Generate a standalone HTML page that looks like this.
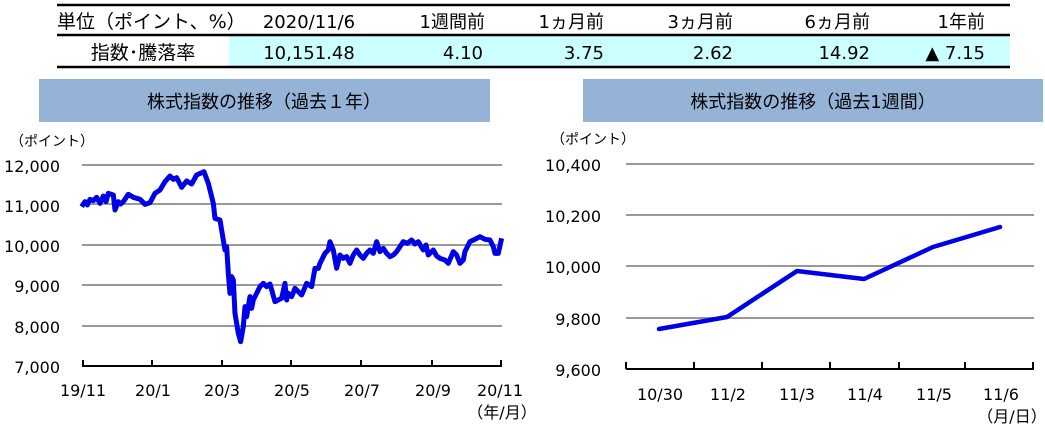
<!DOCTYPE html>
<html><head><meta charset="utf-8"><style>
body{margin:0;background:#fff;width:1045px;height:427px;overflow:hidden;font-family:"DejaVu Sans","Noto Sans CJK JP",sans-serif;}
svg text{font-family:"DejaVu Sans","Noto Sans CJK JP",sans-serif;fill:#000;}
</style></head><body>
<svg width="1045" height="427" viewBox="0 0 1045 427" xmlns="http://www.w3.org/2000/svg">
<!-- table -->
<rect x="229" y="36" width="781" height="30" fill="#ccffff"/>
<line x1="57" y1="5" x2="1010" y2="5" stroke="#000" stroke-width="2.5"/>
<line x1="57" y1="35" x2="1010" y2="35" stroke="#000" stroke-width="2.5"/>
<line x1="57" y1="67" x2="1010" y2="67" stroke="#000" stroke-width="2.5"/>
<g font-size="18">
<text x="57" y="28" font-size="19">単位（ポイント、%）</text>
<text x="309" y="28" text-anchor="middle">2020/11/6</text>
<text x="485" y="28" text-anchor="end">1週間前</text>
<text x="604" y="28" text-anchor="end">1ヵ月前</text>
<text x="733" y="28" text-anchor="end">3ヵ月前</text>
<text x="870" y="28" text-anchor="end">6ヵ月前</text>
<text x="985" y="28" text-anchor="end">1年前</text>
<text x="143" y="59" text-anchor="middle" font-size="19">指数･騰落率</text>
<text x="309" y="59" text-anchor="middle">10,151.48</text>
<text x="483" y="59" text-anchor="end">4.10</text>
<text x="604" y="59" text-anchor="end">3.75</text>
<text x="733" y="59" text-anchor="end">2.62</text>
<text x="870" y="59" text-anchor="end">14.92</text>
<text x="985" y="59" text-anchor="end">▲ 7.15</text>
</g>
<!-- titles -->
<rect x="39" y="79" width="451" height="43" fill="#95b3d7"/>
<text x="264" y="108" font-size="18" text-anchor="middle">株式指数の推移（過去１年）</text>
<rect x="583" y="79" width="460" height="43" fill="#95b3d7"/>
<text x="813" y="108" font-size="18" text-anchor="middle">株式指数の推移（過去1週間）</text>

<!-- left chart -->
<g font-size="16">
<text x="10" y="146" font-size="14">（ポイント）</text>
<g stroke="#999" stroke-width="2">
<line x1="82" y1="165" x2="502" y2="165"/><line x1="82" y1="204" x2="502" y2="204"/>
<line x1="82" y1="245" x2="502" y2="245"/><line x1="82" y1="285" x2="502" y2="285"/>
<line x1="82" y1="326" x2="502" y2="326"/></g>
<g stroke="#000" stroke-width="2"><line x1="82" y1="366" x2="502" y2="366"/>
<line x1="83" y1="360" x2="83" y2="366"/><line x1="152" y1="360" x2="152" y2="366"/><line x1="222" y1="360" x2="222" y2="366"/><line x1="291" y1="360" x2="291" y2="366"/><line x1="361" y1="360" x2="361" y2="366"/><line x1="432" y1="360" x2="432" y2="366"/><line x1="501" y1="360" x2="501" y2="366"/></g>
<text x="60" y="172" text-anchor="end">12,000</text><text x="60" y="212" text-anchor="end">11,000</text>
<text x="60" y="252" text-anchor="end">10,000</text><text x="60" y="292" text-anchor="end">9,000</text>
<text x="60" y="333" text-anchor="end">8,000</text><text x="60" y="373" text-anchor="end">7,000</text>
<text x="83" y="396" text-anchor="middle">19/11</text><text x="153" y="396" text-anchor="middle">20/1</text>
<text x="222" y="396" text-anchor="middle">20/3</text><text x="292" y="396" text-anchor="middle">20/5</text>
<text x="362" y="396" text-anchor="middle">20/7</text><text x="433" y="396" text-anchor="middle">20/9</text>
<text x="500" y="396" text-anchor="middle">20/11</text><text x="502" y="418" text-anchor="middle">（年/月）</text>
</g>
<g transform="translate(0,140) scale(0.3333)">
<polyline fill="none" stroke="#0000e6" stroke-width="15" stroke-linejoin="round" points="245,200 255,185 262,195 270,178 280,182 290,172 300,190 310,168 318,185 325,160 340,165 345,210 355,185 362,192 370,185 385,163 400,172 420,178 435,193 450,188 465,160 480,150 495,125 510,108 520,118 530,113 545,142 560,123 575,132 590,105 612,95 625,130 640,190 645,235 660,240 670,300 675,330 680,320 685,400 690,460 695,410 700,420 705,520 715,580 722,605 730,560 735,500 740,530 750,470 755,505 760,480 770,460 780,440 790,430 800,440 810,432 825,485 845,475 855,430 860,480 865,460 875,470 885,445 895,455 905,465 920,430 935,440 945,385 955,385 960,370 975,340 985,330 990,305 1000,330 1010,385 1020,345 1030,355 1040,350 1050,370 1060,345 1070,330 1080,345 1090,355 1100,340 1110,330 1120,340 1130,305 1140,335 1150,325 1160,340 1170,350 1180,345 1190,335 1200,320 1210,305 1222,310 1235,300 1245,312 1255,305 1270,330 1278,315 1285,345 1300,330 1310,348 1320,355 1335,360 1345,370 1360,335 1370,345 1380,370 1390,360 1395,335 1410,305 1425,298 1440,290 1455,298 1470,300 1480,320 1485,340 1495,340 1505,295"/>
</g>

<!-- right chart -->
<g font-size="16">
<text x="551" y="144" font-size="14">（ポイント）</text>
<g stroke="#999" stroke-width="2">
<line x1="626" y1="164" x2="1034" y2="164"/><line x1="626" y1="215" x2="1034" y2="215"/>
<line x1="626" y1="266" x2="1034" y2="266"/><line x1="626" y1="318" x2="1034" y2="318"/></g>
<g stroke="#000" stroke-width="2"><line x1="626" y1="369" x2="1034" y2="369"/>
<line x1="626" y1="362" x2="626" y2="369"/><line x1="694" y1="362" x2="694" y2="369"/><line x1="762" y1="362" x2="762" y2="369"/><line x1="830" y1="362" x2="830" y2="369"/><line x1="899" y1="362" x2="899" y2="369"/><line x1="965" y1="362" x2="965" y2="369"/><line x1="1033" y1="362" x2="1033" y2="369"/></g>
<text x="601" y="171" text-anchor="end">10,400</text><text x="601" y="222" text-anchor="end">10,200</text>
<text x="601" y="273" text-anchor="end">10,000</text><text x="601" y="325" text-anchor="end">9,800</text>
<text x="601" y="376" text-anchor="end">9,600</text>
<text x="660" y="400" text-anchor="middle">10/30</text><text x="728" y="400" text-anchor="middle">11/2</text>
<text x="797" y="400" text-anchor="middle">11/3</text><text x="865" y="400" text-anchor="middle">11/4</text>
<text x="934" y="400" text-anchor="middle">11/5</text><text x="1001" y="400" text-anchor="middle">11/6</text>
<text x="1012" y="422" text-anchor="middle">（月/日）</text>
</g>
<polyline fill="none" stroke="#0000e6" stroke-width="4.5" stroke-linejoin="round" stroke-linecap="round" points="659,329 727,317 797,271 864,279 933,247 1000,227"/>
</svg>
</body></html>
